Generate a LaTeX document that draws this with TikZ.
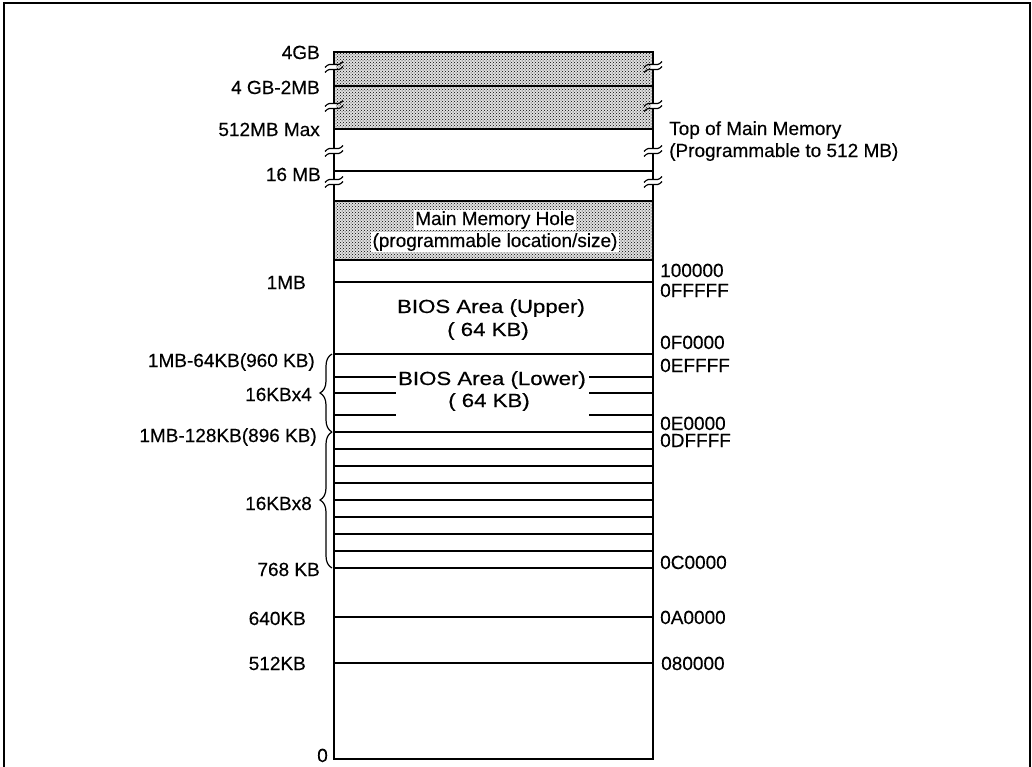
\documentclass[tikz,border=0pt]{standalone}
\usepackage{graphicx}
\usepackage{fontspec}
\setmainfont{Liberation Sans}
\newfontfamily\lblfont[FakeBold=0.35]{Liberation Sans}
\usetikzlibrary{patterns,decorations.pathreplacing}
\newcommand\brkmark[2]{%
  \fill[white] (#1-1.6,#2-2.4) rectangle (#1+1.6,#2+2.4);
  \draw[brkline] (#1-9,#2+0.5) .. controls (#1-3,#2-7) and (#1+3,#2+2) .. (#1+9,#2-5.5);
  \draw[brkline] (#1-9,#2+5.5) .. controls (#1-3,#2-2) and (#1+3,#2+7) .. (#1+9,#2-0.5);
}
\newcommand\wide[1]{\scalebox{1.17}[1]{#1}}
\begin{document}
\begin{tikzpicture}[x=1pt,y=-1pt,
  lbl/.style={font=\lblfont\fontsize{19}{22}\selectfont, inner sep=0pt},
  memline/.style={line width=1.3pt},
  boldline/.style={line width=2.4pt},
  boxline/.style={line width=1.6pt},
  brkline/.style={line width=1.2pt},
  shade/.style={fill=black!12, postaction={pattern=crosshatch dots, pattern color=black}},
  bracestyle/.style={line width=1.2pt, decorate, decoration={brace, amplitude=12pt}},
]
\useasboundingbox (0,0) rectangle (1032,766);
% outer frame
\draw[boxline] (4,770) -- (4,3) -- (1030,3) -- (1030,770);

% shaded areas
\path[shade] (334,52) rectangle (653,129);
\path[shade] (334,201) rectangle (653,260);

% main box
\draw[boxline] (334,52) rectangle (653,759);

% lines
\foreach \y/\n in {86/a,129/b,171/c,201/d,260/e,449/f,466/g,483/h,500/i,517/j,534/k,551/l,617/m,663/n}{
  \coordinate (L\n) at (334,\y); \coordinate (R\n) at (653,\y);
  \draw[memline] (L\n) -- (R\n);
}
\foreach \y/\n in {282/p,354/q,432/r,568/s}{
  \coordinate (L\n) at (334,\y); \coordinate (R\n) at (653,\y);
  \draw[boldline] (L\n) -- (R\n);
}
% BIOS lower partial lines
\foreach \y/\n in {377/u,393/v,415/w}{
  \coordinate (L\n) at (334,\y); \coordinate (R\n) at (653,\y);
  \coordinate (Lm\n) at (396,\y); \coordinate (Rm\n) at (589,\y);
  \draw[memline] (L\n) -- (Lm\n);
  \draw[memline] (Rm\n) -- (R\n);
}

% break marks
\foreach \y in {67,106,151,182}{
  \brkmark{334}{\y}
  \brkmark{653}{\y}
}

% texts in box
\node[lbl, fill=white, inner sep=1.5pt, anchor=base] (mmh1) at (495,225) {Main Memory Hole};
\node[lbl, fill=white, inner sep=1.5pt, anchor=base] (mmh2) at (495,247) {(programmable location/size)};
\node[lbl, anchor=base] (bu1) at (491,313) {\wide{BIOS Area (Upper)}};
\node[lbl, anchor=base] (bu2) at (488,336) {\wide{( 64 KB)}};
\node[lbl, anchor=base] (bl1) at (492,385) {\wide{BIOS Area (Lower)}};
\node[lbl, anchor=base] (bl2) at (489,407) {\wide{( 64 KB)}};

% left labels
\node[lbl, anchor=base east] (l4gb) at (320,59) {4GB};
\node[lbl, anchor=base east] (l4gb2) at (320,94) {4 GB-2MB};
\node[lbl, anchor=base east] (l512) at (320,136) {512MB Max};
\node[lbl, anchor=base east] (l16) at (321,181) {16 MB};
\node[lbl, anchor=base east] (l1mb) at (306,289) {1MB};
\node[lbl, anchor=base east] (l960) at (315,367) {1MB-64KB(960 KB)};
\node[lbl, anchor=base east] (l16x4) at (312,401) {16KBx4};
\node[lbl, anchor=base east] (l896) at (317,442) {1MB-128KB(896 KB)};
\node[lbl, anchor=base east] (l16x8) at (312,510) {16KBx8};
\node[lbl, anchor=base east] (l768) at (320,576) {768 KB};
\node[lbl, anchor=base east] (l640) at (306,625) {640KB};
\node[lbl, anchor=base east] (l512k) at (306,670) {512KB};
\node[lbl, anchor=base east] (l0) at (328,762) {0};

% braces
\coordinate (b1a) at (332,354);
\coordinate (b1b) at (332,432);
\coordinate (b2b) at (332,568);
\draw[bracestyle] (b1b) -- (b1a);
\draw[bracestyle] (b2b) -- (b1b);

% right labels
\node[lbl, anchor=base west] (top1) at (669,135) {Top of Main Memory};
\node[lbl, anchor=base west] (top2) at (669,157) {(Programmable to 512 MB)};
\node[lbl, anchor=base west] (r100) at (660,277) {100000};
\node[lbl, anchor=base west] (r0ff) at (660,297) {0FFFFF};
\node[lbl, anchor=base west] (r0f0) at (660,349) {0F0000};
\node[lbl, anchor=base west] (r0ef) at (660,372) {0EFFFF};
\node[lbl, anchor=base west] (r0e0) at (660,430) {0E0000};
\node[lbl, anchor=base west] (r0df) at (660,447) {0DFFFF};
\node[lbl, anchor=base west] (r0c0) at (660,569) {0C0000};
\node[lbl, anchor=base west] (r0a0) at (660,624) {0A0000};
\node[lbl, anchor=base west] (r080) at (661,670) {080000};
\end{tikzpicture}
\end{document}
